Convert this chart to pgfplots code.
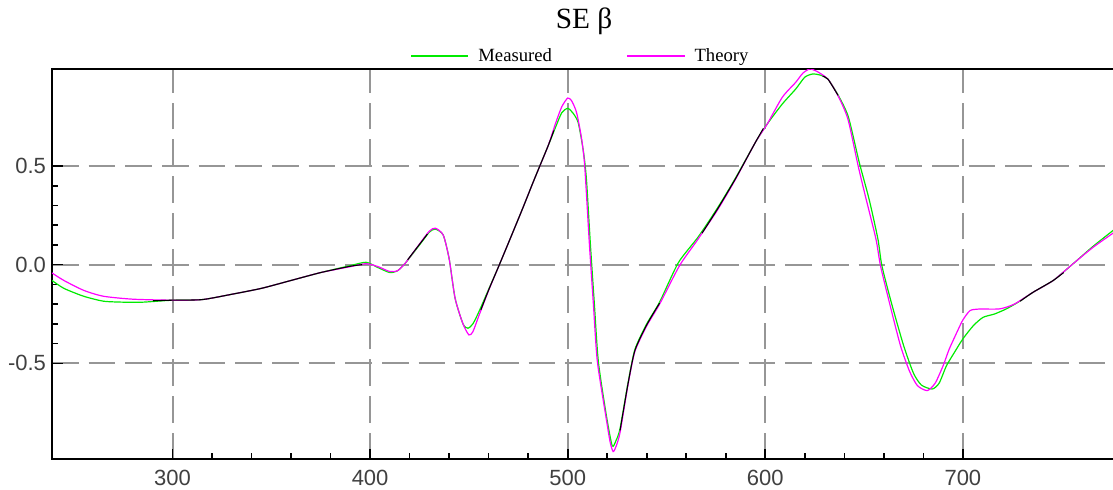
\documentclass[border=0pt]{standalone}
\usepackage{fontspec}
\setmainfont{Liberation Serif}
\newfontfamily\ticksf{Liberation Sans}
\usepackage{pgfplots}
\pgfplotsset{compat=1.18}
\definecolor{mgreen}{RGB}{0,235,0}
\definecolor{mmag}{RGB}{255,0,255}
\definecolor{gridgray}{RGB}{150,150,150}

\begin{document}
\begin{tikzpicture}
\useasboundingbox (0,0) rectangle (834.75pt,366.75pt);
\begin{axis}[
    at={(39pt,22.3pt)}, anchor=south west,
    scale only axis, width=798pt, height=292.5pt,
    xmin=239, xmax=777.5, ymin=-0.986, ymax=0.99,
    axis line style={line width=1.5pt},
    xtick={300,400,500,600,700}, xticklabels={300,400,500,600,700},
    ytick={-0.5,0,0.5}, yticklabels={-0.5,0.0,0.5},
    minor x tick num=4, minor y tick num=4,
    tick pos=left, tick align=inside,
    major tick length=8pt, minor tick length=4.5pt,
    every tick/.style={black, line width=1.2pt},
    tick label style={font=\ticksf\fontsize{16.5}{18}\selectfont, text=black!75},
    yticklabel style={xshift=-1pt},
    xticklabel style={yshift=-4.5pt},
    grid=major,
    major grid style={gridgray, line width=1.5pt, dash pattern=on 20pt off 7.5pt},
    title={SE β},
    title style={at={(0.5,1)}, anchor=center, yshift=30pt, font=\fontsize{22}{24}\selectfont},
    legend columns=2,
    legend style={at={(0.497,1)}, anchor=center, yshift=10pt, draw=none, fill=none,
      font=\fontsize{14}{16}\selectfont,
      /tikz/every even column/.append style={column sep=54pt}},
    legend image code/.code={\draw[#1] (0pt,0pt) -- (43pt,0pt); \path (48pt,0pt);},
  ]
  % measured
  \addplot[mgreen, line width=0.9pt, smooth, tension=0.4] coordinates {
    (239,-0.08) (245,-0.12) (255,-0.16) (265,-0.185) (275,-0.19) (285,-0.19)
    (300,-0.18) (315,-0.177) (330,-0.15) (345,-0.12) (360,-0.08) (375,-0.04)
    (390,-0.005) (398,0.012) (404,-0.015) (410,-0.04) (414,-0.03) (418,0.01)
    (425,0.1) (430,0.165) (433,0.18) (437,0.15) (440,0.03) (443,-0.17)
    (447,-0.3) (449.5,-0.322) (452,-0.3) (455,-0.24) (460,-0.125) (465,-0.01)
    (470,0.11) (477,0.28) (483,0.43) (490,0.6) (494,0.7) (497,0.77)
    (500,0.792) (502.5,0.77) (505.3,0.72) (508,0.57) (509.5,0.43) (511.5,0.1)
    (513.5,-0.2) (515.5,-0.49) (519.5,-0.76) (522.5,-0.917) (524.5,-0.89)
    (526.5,-0.83) (530.5,-0.6) (534,-0.43) (540,-0.3) (546.5,-0.19) (556,0.01)
    (566,0.14) (576,0.29) (585,0.44) (595,0.62) (601,0.713) (608.6,0.814)
    (615.4,0.89) (620,0.95) (624,0.966) (628,0.96) (631.7,0.94) (636.8,0.86)
    (642,0.75) (647.5,0.52) (652.5,0.333) (657,0.13) (659,-0.005) (664,-0.2)
    (670,-0.41) (675,-0.55) (679,-0.61) (684.5,-0.63) (688,-0.6) (691.7,-0.512)
    (696,-0.44) (700,-0.376) (705.3,-0.309) (710.2,-0.267) (716,-0.25)
    (722,-0.224) (728,-0.19) (735.5,-0.14) (745.6,-0.081) (755.7,0.004)
    (765.9,0.093) (777.5,0.185)
  };
  \addlegendentry{Measured}
  % theory
  \addplot[mmag, line width=0.9pt, smooth, tension=0.4] coordinates {
    (239,-0.042) (245,-0.08) (255,-0.13) (265,-0.16) (280,-0.175) (300,-0.18)
    (315,-0.177) (330,-0.15) (345,-0.12) (360,-0.08) (375,-0.04) (390,-0.01)
    (398,0.005) (404,-0.01) (410,-0.035) (414,-0.03) (418,0.01) (425,0.105)
    (430,0.17) (433,0.185) (437,0.15) (440,0.03) (443,-0.17) (447,-0.3)
    (450,-0.356) (452,-0.34) (455,-0.26) (460,-0.13) (465,-0.01) (470,0.11)
    (477,0.28) (483,0.43) (490,0.6) (494,0.72) (497,0.8) (500,0.844)
    (502,0.83) (504.5,0.77) (507,0.64) (508.6,0.5) (511,0.1) (513,-0.2)
    (515,-0.49) (519.5,-0.78) (521.5,-0.9) (523,-0.947) (524.5,-0.92)
    (526.5,-0.85) (530.5,-0.61) (534,-0.44) (540,-0.31) (546.5,-0.2)
    (556.6,-0.005) (566,0.13) (576,0.28) (585,0.434) (595,0.62) (601,0.713)
    (608.6,0.848) (615.4,0.924) (619,0.97) (622.4,0.991) (626,0.98)
    (631.7,0.94) (636.8,0.856) (641.8,0.738) (647,0.5) (651,0.333) (656,0.13)
    (658.3,-0.005) (663,-0.2) (668.4,-0.41) (673,-0.54) (677,-0.613)
    (682,-0.638) (686,-0.6) (690,-0.512) (693,-0.43) (697,-0.342) (700,-0.28)
    (703.6,-0.233) (708,-0.225) (718.6,-0.224) (726,-0.2) (735.5,-0.14)
    (745.6,-0.081) (755.7,0.004) (765.9,0.088) (777.5,0.17)
  };
  \addlegendentry{Theory}
  % where the two traces coincide the original shows black
  \addplot[black, line width=0.8pt, smooth, tension=0.4, forget plot] coordinates {
    (290,-0.183) (300,-0.18) (315,-0.177) (330,-0.15) (345,-0.12) (360,-0.08)
    (375,-0.04) (390,-0.008) (396,0.0)
  };
  \addplot[black, line width=0.8pt, smooth, tension=0.4, forget plot] coordinates {
    (419,0.025) (425,0.103) (429,0.155)
  };
  \addplot[black, line width=0.8pt, smooth, tension=0.4, forget plot] coordinates {
    (456,-0.23) (460,-0.128) (465,-0.01) (470,0.11) (477,0.28) (483,0.43)
    (490,0.6) (493,0.68)
  };
  \addplot[black, line width=0.8pt, smooth, tension=0.4, forget plot] coordinates {
    (526.5,-0.84) (530.5,-0.605) (534,-0.435) (540,-0.305) (546.5,-0.195)
  };
  \addplot[black, line width=0.8pt, smooth, tension=0.4, forget plot] coordinates {
    (568,0.16) (576,0.285) (585,0.437) (595,0.62) (599,0.69)
  };
  \addplot[black, line width=0.8pt, smooth, tension=0.4, forget plot] coordinates {
    (629,0.955) (631.7,0.94) (636.8,0.858)
  };
  \addplot[black, line width=0.8pt, smooth, tension=0.4, forget plot] coordinates {
    (729,-0.185) (735.5,-0.14) (745.6,-0.081) (751,-0.04)
  };
\end{axis}
\end{tikzpicture}
\end{document}
